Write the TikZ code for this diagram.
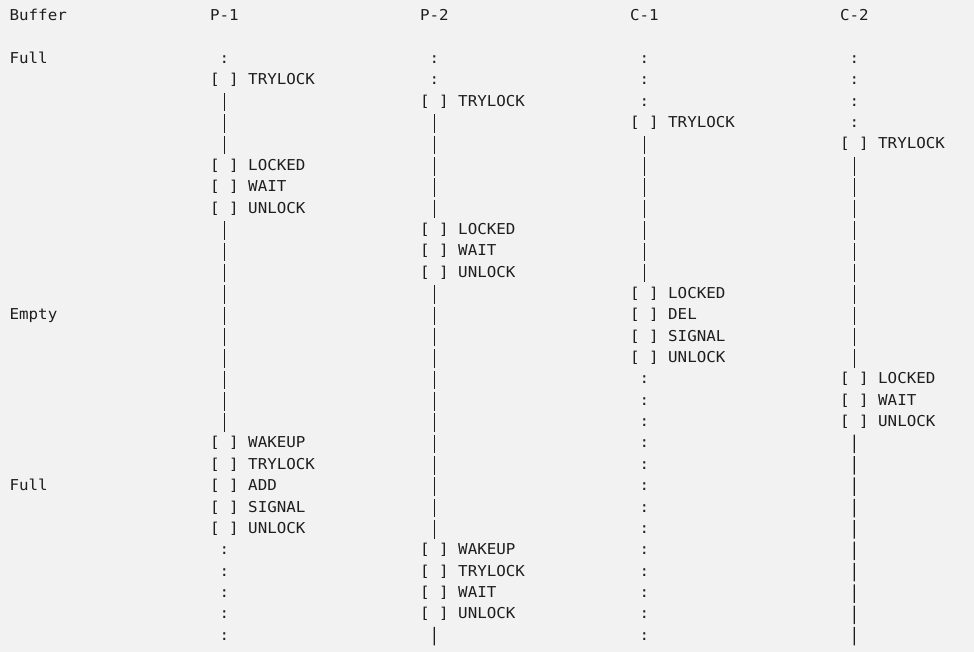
\documentclass[tikz,border=0pt]{standalone}
\usepackage{fontspec}
\newfontfamily\monofont[FakeStretch=1.057]{DejaVu Sans Mono}
\usepackage{tikz}
\definecolor{bggray}{HTML}{F2F2F2}
\definecolor{ink}{HTML}{1E1E1E}
\tikzset{
	monotext/.style={
			font=\monofont\fontsize{15}{18}\selectfont,
			text=ink,
			inner sep=0pt,
			outer sep=0pt,
			text height=12pt,
			text depth=4pt
		},
	textnode/.style={
			monotext,
			anchor=base west
		},
	eventnode/.style={
			textnode,
			label={[monotext, label distance=9.545pt]right:#1}
		},
	waitline/.style={
			draw=ink,
			line width=1.3pt,
			dash pattern=on 18.5pt off 2.86pt,
			shorten <=4.1pt,
			shorten >=4.1pt
		}
}

\begin{document}
\begin{tikzpicture}[x=9.545pt, y=-21.36pt]
\fill[bggray] (-1.006,-0.974) rectangle (101.04,29.55);

% headers
\node[textnode] (buffer) at (0,0)  {Buffer};
\node[textnode] (hp1) at (21,0)  {P-1};
\node[textnode] (hp2) at (43,0)  {P-2};
\node[textnode] (hc1) at (65,0)  {C-1};
\node[textnode] (hc2) at (87,0)  {C-2};

% buffer states
\node[textnode] (full1) at (0,2)  {Full};
\node[textnode] (empty) at (0,14)  {Empty};
\node[textnode] (full2) at (0,22)  {Full};

% P-1
\node[eventnode=TRYLOCK] (p1try) at (21,3)  {[ ]};
\node[eventnode=LOCKED] (p1locked) at (21,7)  {[ ]};
\node[eventnode=WAIT] (p1wait) at (21,8)  {[ ]};
\node[eventnode=UNLOCK] (p1unlock) at (21,9)  {[ ]};
\node[eventnode=WAKEUP] (p1wakeup) at (21,20)  {[ ]};
\node[eventnode=TRYLOCK] (p1try2) at (21,21)  {[ ]};
\node[eventnode=ADD] (p1add) at (21,22)  {[ ]};
\node[eventnode=SIGNAL] (p1signal) at (21,23)  {[ ]};
\node[eventnode=UNLOCK] (p1unlock2) at (21,24)  {[ ]};
\foreach \r in {2,25,26,27,28,29}
  \node[textnode] (p1dot\r) at (22,\r) {:};

% P-2
\node[eventnode=TRYLOCK] (p2try) at (43,4)  {[ ]};
\node[eventnode=LOCKED] (p2locked) at (43,10)  {[ ]};
\node[eventnode=WAIT] (p2wait) at (43,11)  {[ ]};
\node[eventnode=UNLOCK] (p2unlock) at (43,12)  {[ ]};
\node[eventnode=WAKEUP] (p2wakeup) at (43,25)  {[ ]};
\node[eventnode=TRYLOCK] (p2try2) at (43,26)  {[ ]};
\node[eventnode=WAIT] (p2wait2) at (43,27)  {[ ]};
\node[eventnode=UNLOCK] (p2unlock2) at (43,28)  {[ ]};
\foreach \r in {2,3}
  \node[textnode] (p2dot\r) at (44,\r) {:};
\coordinate (p2end) at (44.5,29.245);

% C-1
\node[eventnode=TRYLOCK] (c1try) at (65,5)  {[ ]};
\node[eventnode=LOCKED] (c1locked) at (65,13)  {[ ]};
\node[eventnode=DEL] (c1del) at (65,14)  {[ ]};
\node[eventnode=SIGNAL] (c1signal) at (65,15)  {[ ]};
\node[eventnode=UNLOCK] (c1unlock) at (65,16)  {[ ]};
\foreach \r in {2,3,4,17,18,...,29}
  \node[textnode] (c1dot\r) at (66,\r) {:};

% C-2
\node[eventnode=TRYLOCK] (c2try) at (87,6)  {[ ]};
\node[eventnode=LOCKED] (c2locked) at (87,17)  {[ ]};
\node[eventnode=WAIT] (c2wait) at (87,18)  {[ ]};
\node[eventnode=UNLOCK] (c2unlock) at (87,19)  {[ ]};
\foreach \r in {2,3,4,5}
  \node[textnode] (c2dot\r) at (88,\r) {:};
\coordinate (c2end) at (88.5,29.245);

\draw[waitline] (p1try) -- (p1locked);
\draw[waitline] (p1unlock) -- (p1wakeup);

\draw[waitline] (p2try) -- (p2locked);
\draw[waitline] (p2unlock) -- (p2wakeup);
\draw[waitline, shorten >=0pt] (p2unlock2) -- (p2end);

\draw[waitline] (c1try) -- (c1locked);

\draw[waitline] (c2try) -- (c2locked);
\draw[waitline, shorten >=0pt] (c2unlock) -- (c2end);
\end{tikzpicture}
\end{document}
